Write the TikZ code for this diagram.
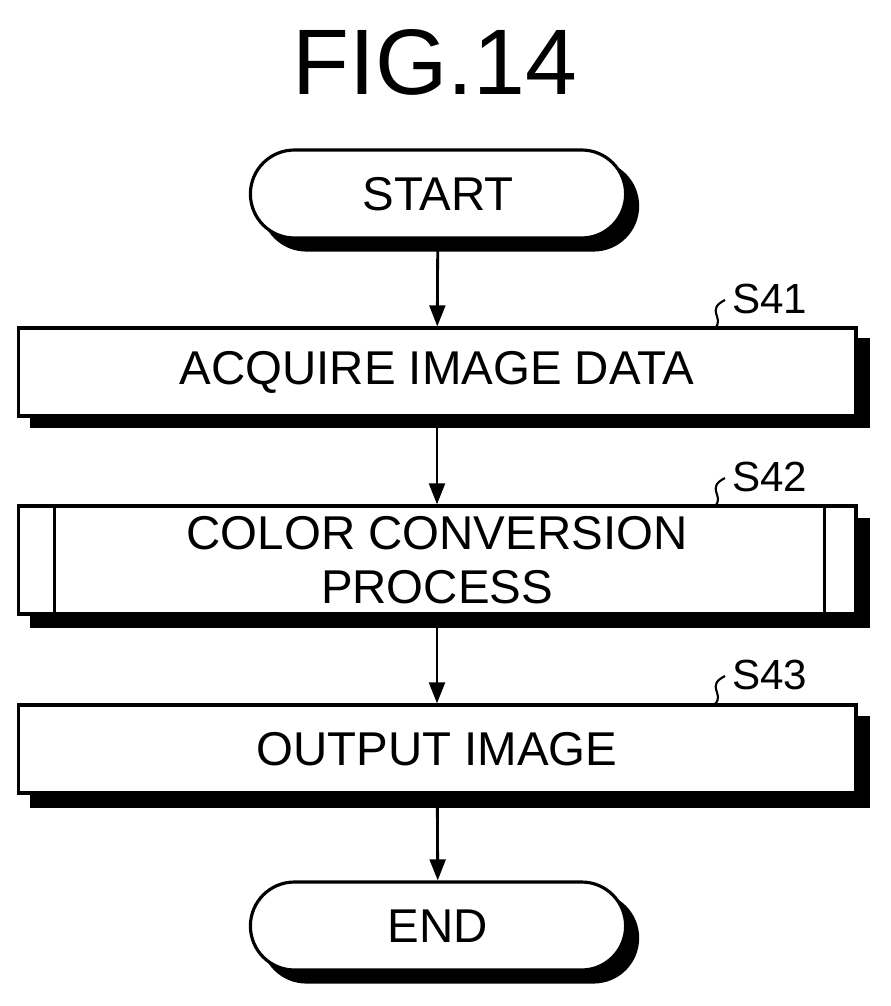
\documentclass[tikz,border=0pt]{standalone}
\usepackage{fontspec}
\setmainfont{Liberation Sans}
\usetikzlibrary{positioning, arrows.meta, shapes.misc}

\tikzset{
  flow/.style={-{Triangle[length=12pt,width=9pt]}, line width=1.6pt},
  stepbox/.style={draw, line width=1.8pt, fill=white, minimum width=16.76cm, align=center,
    font=\fontsize{27}{31}\selectfont},
  term/.style={draw, line width=1.8pt, fill=white, rounded rectangle, minimum width=7.74cm,
    minimum height=1.76cm, font=\fontsize{27}{31}\selectfont},
  termshadow/.style={term, fill=black, draw=black},
  steplabel/.style={font=\fontsize{24}{26}\selectfont, anchor=south west, inner sep=0pt},
}

\begin{document}
\begin{tikzpicture}[x=0.02cm, y=-0.02cm]
\useasboundingbox (0,0) rectangle (890,1006);
% title
\node (title) at (435,62) {\fontsize{53}{58}\selectfont FIG.14};
% start
\node[termshadow] (startsh) at (450,206) {};
\node[term] (start) at (438,194) {START};
% S41
\fill[black] (30,338) rectangle (870,428);
\node[stepbox, minimum height=1.76cm] (s41) at (437,372) {ACQUIRE IMAGE DATA};
% S42
\fill[black] (30,518) rectangle (870,628);
\node[stepbox, minimum height=2.16cm] (s42) at (437,560) {COLOR CONVERSION\\PROCESS};
\draw[line width=1.8pt] ([xshift=0.76cm]s42.north west) -- ([xshift=0.76cm]s42.south west);
\draw[line width=1.8pt] ([xshift=-0.66cm]s42.north east) -- ([xshift=-0.66cm]s42.south east);
% S43
\fill[black] (30,716) rectangle (870,808);
\node[stepbox, minimum height=1.76cm] (s43) at (437,749) {OUTPUT IMAGE};
% end
\node[termshadow] (endsh) at (450,938) {};
\node[term] (end) at (438,926) {END};
% arrows
\draw[flow] (start) -- (s41);
\draw[flow] (s41) -- (s42);
\draw[flow] (s42) -- (s43);
\draw[flow] (s43) -- (end);
% step labels
\foreach \n/\y in {41/328, 42/506, 43/704} {
  \draw[line width=1.2pt] (715,\y) .. controls (725,\y-10) and (705,\y-18) .. (725,\y-28);
  \node[steplabel] (l\n) at (732,\y-14) {S\n};
}
\end{tikzpicture}
\end{document}
